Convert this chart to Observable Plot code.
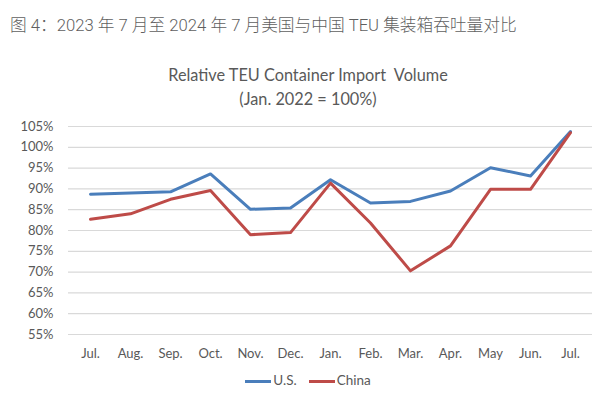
<!DOCTYPE html>
<html><head><meta charset="utf-8">
<script src="https://cdn.jsdelivr.net/npm/d3@7"></script>
<script src="https://cdn.jsdelivr.net/npm/@observablehq/plot@0.6"></script>
<style>
body{margin:0;background:#fff;}
#wrap{position:relative;width:616px;height:397px;overflow:hidden;font-family:Lato,"Open Sans",sans-serif;}
#title{position:absolute;left:10px;top:12px;font-family:Roboto,"Noto Sans CJK SC",sans-serif;font-weight:300;font-size:16.7px;color:#5f5f5f;white-space:nowrap;}
#ctitle{position:absolute;left:0;width:616px;top:63px;text-align:center;font-size:16.3px;color:#595959;line-height:24px;}
#legend{position:absolute;left:0;width:616px;top:372px;text-align:center;font-size:13.5px;color:#595959;}
.sw{display:inline-block;width:26px;height:3px;vertical-align:middle;margin-right:2px;}
</style></head>
<body><div id="wrap">
<div id="chart"></div>
<div id="title">图 4：2023 年 7 月至 2024 年 7 月美国与中国 TEU 集装箱吞吐量对比</div>
<div id="ctitle">Relative TEU Container Import&nbsp; Volume<br>(Jan. 2022 = 100%)</div>
<div id="legend"><span class="sw" style="background:#4a7ebb"></span>U.S.<span style="display:inline-block;width:12px"></span><span class="sw" style="background:#be4b48"></span>China</div>
</div>
<script>
const months = ["Jul.","Aug.","Sep.","Oct.","Nov.","Dec.","Jan.","Feb.","Mar.","Apr.","May","Jun.","Jul."];
const us =    [88.7, 89.0, 89.3, 93.6, 85.1, 85.4, 92.2, 86.6, 87.0, 89.5, 95.1, 93.1, 103.8];
const china = [82.7, 84.0, 87.5, 89.6, 79.0, 79.5, 91.4, 81.8, 70.3, 76.3, 89.9, 89.9, 103.5];
const yTicks = [55,60,65,70,75,80,85,90,95,100,105];
const series = [{name:"U.S.", values: us, color:"#4a7ebb"}, {name:"China", values: china, color:"#be4b48"}];
const idx = months.map((m,i)=>i);
const data = series.flatMap(s => s.values.map((v,i)=>({i, v, name:s.name})));
const plot = Plot.plot({
  width:616, height:397,
  marginTop:126, marginBottom:63, marginLeft:68, marginRight:24,
  style:{fontFamily:"Lato, 'Open Sans', sans-serif", fontSize:"13px", color:"#595959", background:"transparent"},
  x:{type:"point", domain:idx, padding:0.5, label:null},
  y:{domain:[55,105], label:null},
  color:{domain:series.map(s=>s.name), range:series.map(s=>s.color)},
  marks:[
    Plot.ruleY(yTicks, {stroke:"#d9d9d9", strokeWidth:1.2}),
    Plot.axisY(yTicks, {tickSize:0, tickPadding:15, tickFormat:d=>d+"%", fontSize:13}),
    Plot.axisX(idx, {tickSize:0, tickPadding:14, tickFormat:i=>months[i], fontSize:13}),
    Plot.line(data, {x:"i", y:"v", z:"name", stroke:"name", strokeWidth:3, strokeLinejoin:"round"})
  ]
});
document.getElementById("chart").appendChild(plot);
</script>
</body></html>
